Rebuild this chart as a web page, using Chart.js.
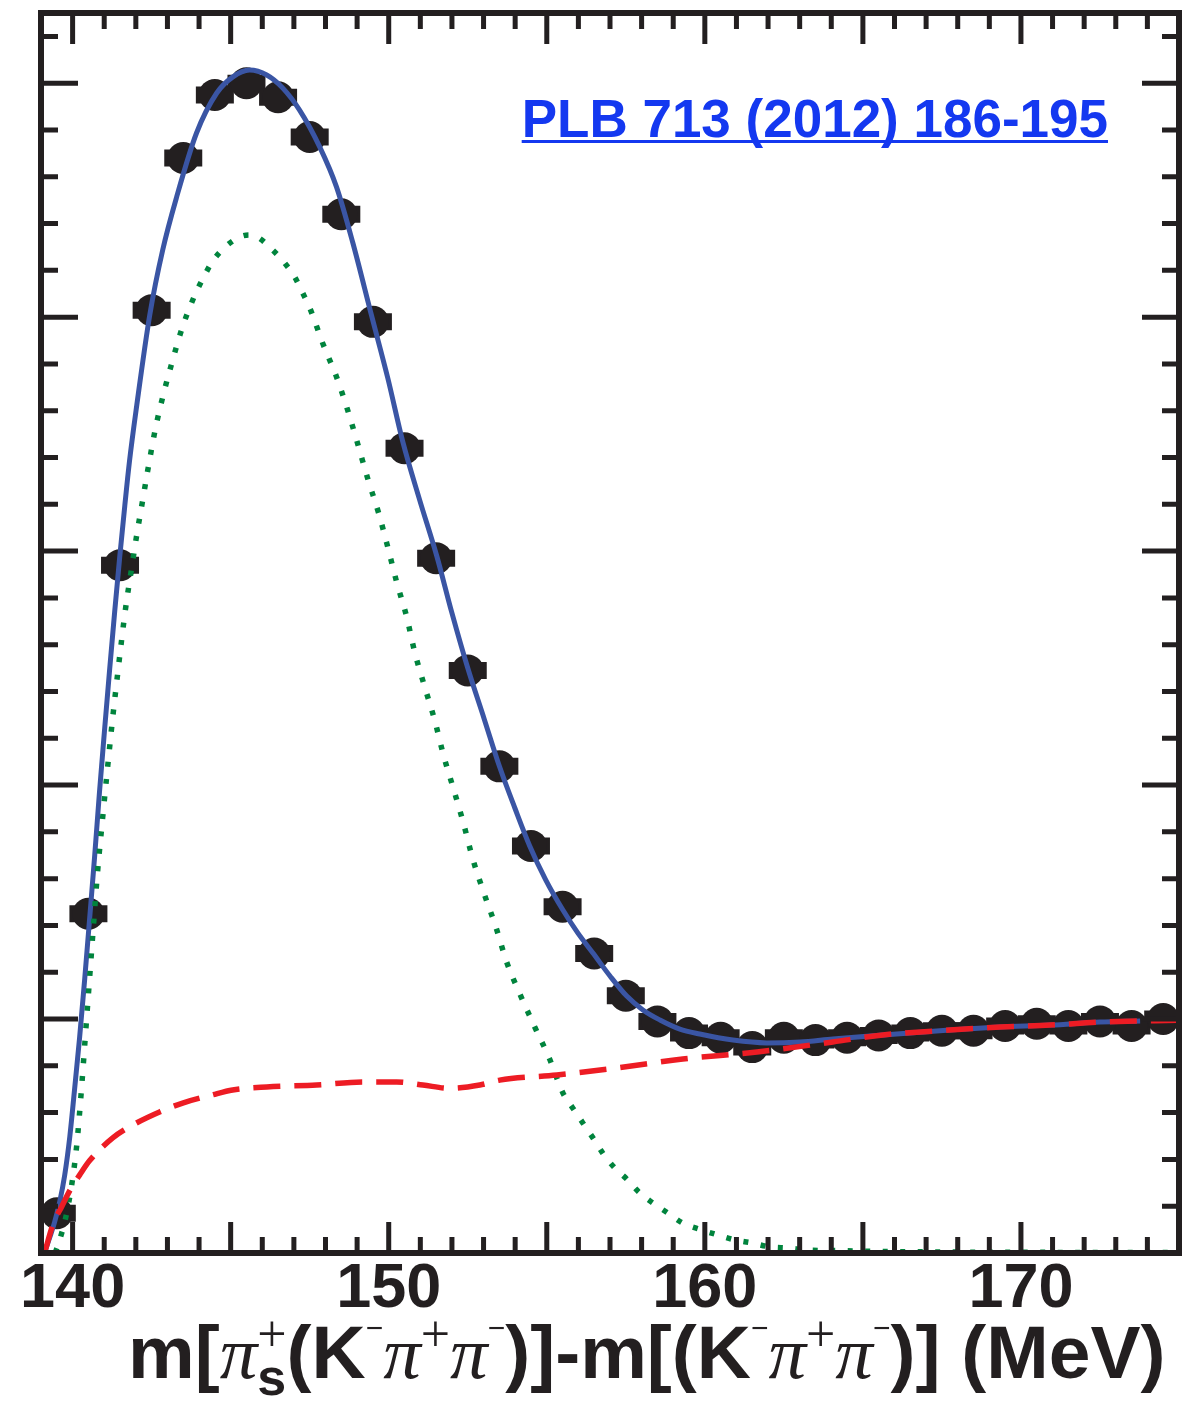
<!DOCTYPE html>
<html>
<head>
<meta charset="utf-8">
<title>D*+ mass difference</title>
<script src="https://cdn.jsdelivr.net/npm/chart.js@4.4.0/dist/chart.umd.min.js"></script>
<style>
  html, body { margin: 0; padding: 0; background: #fff; }
</style>
</head>
<body>
<canvas id="myChart" width="1184" height="1404"></canvas>
<script>
'use strict';

// binned data: bin centres (MeV) and entries
let binMass = [139.5, 140.5, 141.5, 142.5, 143.5, 144.5, 145.5, 146.5, 147.5, 148.5,
  149.5, 150.5, 151.5, 152.5, 153.5, 154.5, 155.5, 156.5, 157.5, 158.5,
  159.5, 160.5, 161.5, 162.5, 163.5, 164.5, 165.5, 166.5, 167.5, 168.5,
  169.5, 170.5, 171.5, 172.5, 173.5, 174.5];
let binCounts = [17, 145, 294, 403, 468, 495, 500, 494, 477, 444,
  398, 344, 297, 249, 208, 174, 148, 128, 110, 99,
  94, 92, 88, 92, 91, 92, 93, 94, 95, 95,
  97, 98, 97, 99, 97, 100];

// total fit (solid blue)
let fitMass = [139.11, 139.27, 139.43, 139.59, 139.75, 139.91, 140.06, 140.22, 140.38, 140.54,
  140.70, 140.85, 141.01, 141.17, 141.33, 141.49, 141.65, 141.80, 142.03, 142.44,
  142.85, 143.29, 143.92, 144.56, 145.06, 145.60, 146.14, 146.65, 147.18, 147.82,
  148.35, 148.86, 149.46, 149.97, 150.44, 150.98, 151.52, 151.99, 152.50, 153.01,
  153.51, 153.99, 154.46, 154.97, 155.51, 155.98, 156.46, 157.00, 157.53, 158.04,
  158.58, 159.21, 159.84, 160.89, 161.96, 163.01, 164.05, 165.63, 167.75, 169.34,
  170.92, 172.50, 173.77];
let fitValues = [0, 6.4, 13.2, 21.8, 33.3, 49.6, 69.7, 91.9, 116.7, 143.2,
  170.1, 197.0, 223.5, 249.2, 274.0, 297.5, 319.3, 338.5, 362.4, 400.9,
  428.7, 451.3, 478.7, 495.8, 502.6, 505.6, 503.5, 497.9, 488.5, 472.7,
  455.6, 432.0, 400.5, 374.0, 347.0, 321.8, 297.9, 274.0, 250.0, 228.7,
  207.7, 190.2, 174.0, 159.4, 146.6, 136.8, 128.2, 118.4, 109.8, 103.9,
  99.6, 95.7, 93.6, 91.0, 89.8, 90.2, 91.5, 93.2, 95.3, 96.6,
  97.4, 98.7, 99.2];

// signal component (dotted green)
let sigMass = [139.45, 139.59, 139.78, 139.97, 140.13, 140.28, 140.41, 140.54, 140.66, 140.79,
  140.95, 141.11, 141.27, 141.42, 141.55, 141.68, 141.87, 142.03, 142.22, 142.37,
  142.63, 142.91, 143.13, 143.32, 143.48, 143.70, 143.92, 144.18, 144.43, 144.87,
  145.28, 145.57, 145.85, 146.33, 146.71, 147.03, 147.28, 147.53, 147.91, 148.35,
  148.70, 149.02, 149.34, 149.68, 149.97, 150.25, 150.57, 150.82, 151.14, 151.46,
  151.74, 152.06, 152.37, 152.66, 153.01, 153.39, 153.73, 154.15, 154.62, 155.09,
  155.51, 155.82, 156.14, 156.46, 156.77, 157.12, 157.53, 157.91, 158.35, 158.83,
  159.30, 159.91, 160.41, 160.95, 161.49, 162.06, 162.63, 163.23, 164.27, 166.0,
  168.0, 170.0, 175.0];
let sigValues = [0, 5.6, 15, 29, 46, 70, 94, 118, 140, 163,
  186, 208, 229, 247, 262, 276, 293, 307, 322, 334,
  353, 369, 380, 389, 396, 404, 411, 418, 424, 430.5,
  434.2, 435.1, 434.2, 428.7, 423.1, 417.1, 410.3, 403.0, 388.9, 374.4,
  360.3, 345.8, 330.8, 316.3, 301.7, 286.8, 271.8, 256.9, 241.9, 227.4,
  212.4, 197.9, 183.4, 168.4, 153.9, 139.3, 124.4, 110.7, 96.6, 82.9,
  68.4, 62.0, 55.6, 49.2, 42.7, 36.8, 31.6, 26.1, 21.4, 17.1,
  12.8, 9.8, 7.7, 5.6, 4.3, 2.6, 2.1, 1.3, 1.0, 0.6,
  0.4, 0.3, 0.2];

// background component (dashed red)
let bkgMass = [139.11, 139.40, 139.65, 139.94, 140.22, 140.54, 141.27, 141.90, 142.75, 143.48,
  144.40, 145.06, 146.14, 147.72, 149.18, 150.25, 151.08, 151.93, 152.88, 153.51,
  155.32, 157.22, 159.30, 161.65, 164.05, 165.63, 167.75, 169.34, 170.92, 172.50,
  175.00];
let bkgValues = [0, 13.0, 19.7, 27.4, 33.3, 39.5, 49.2, 54.7, 60.3, 64.1,
  67.5, 69.7, 71.0, 71.8, 73.1, 73.1, 71.8, 70.4, 71.8, 73.9,
  76.1, 79.1, 82.9, 85.9, 90.2, 93.2, 95.3, 96.6, 97.4, 98.7,
  99.5];

let xTickLabels = [140, 150, 160, 170];
let citation = 'PLB 713 (2012) 186-195';

let ink = '#231f20';

function pairs(xs, ys) {
  return xs.map((v, i) => ({ x: v, y: ys[i] }));
}

// frame with inward tick marks on all four sides
let frameTicks = {
  id: 'frameTicks',
  afterDatasetsDraw(chart) {
    let ctx = chart.ctx;
    let a = chart.chartArea;
    let xs = chart.scales.x;
    let ys = chart.scales.y;
    ctx.save();
    ctx.strokeStyle = ink;
    ctx.lineCap = 'butt';
    ctx.lineWidth = 5;
    ctx.beginPath();
    xs.ticks.forEach(t => {
      if (t.value <= xs.min || t.value >= xs.max) return;
      let px = xs.getPixelForValue(t.value);
      let len = t.value % 5 === 0 ? 31 : 16;
      ctx.moveTo(px, a.bottom);
      ctx.lineTo(px, a.bottom - len);
      ctx.moveTo(px, a.top);
      ctx.lineTo(px, a.top + len);
    });
    ys.ticks.forEach(t => {
      if (t.value <= ys.min || t.value >= ys.max) return;
      let py = ys.getPixelForValue(t.value);
      let len = t.value % 100 === 0 ? 37 : 17;
      ctx.moveTo(a.left, py);
      ctx.lineTo(a.left + len, py);
      ctx.moveTo(a.right, py);
      ctx.lineTo(a.right - len, py);
    });
    ctx.stroke();
    ctx.lineWidth = 6;
    ctx.strokeRect(a.left, a.top, a.right - a.left, a.bottom - a.top);
    ctx.restore();
  }
};

// reference label, top right
let citationLabel = {
  id: 'citationLabel',
  afterDraw(chart) {
    let ctx = chart.ctx;
    ctx.save();
    ctx.font = 'bold 53px "Liberation Sans", Arial, sans-serif';
    ctx.fillStyle = '#1438f0';
    ctx.textAlign = 'right';
    ctx.textBaseline = 'alphabetic';
    let right = 1108;
    ctx.fillText(citation, right, 137);
    let w = ctx.measureText(citation).width;
    ctx.fillRect(right - w, 140, w, 3);
    ctx.restore();
  }
};

// x axis title with sub/superscripts
let axisTitle = {
  id: 'axisTitle',
  afterDraw(chart) {
    let ctx = chart.ctx;
    let F = 75;
    let sans = 'bold ' + F + 'px "Liberation Sans", Arial, sans-serif';
    let pi = 'italic ' + F + 'px "Liberation Serif", "Times New Roman", serif';
    let plus = '52px "Liberation Serif", "Times New Roman", serif';
    let minus = '30px "Liberation Sans", Arial, sans-serif';
    let sub = 'bold 52px "Liberation Sans", Arial, sans-serif';
    let runs = [
      { t: 'm[', f: sans },
      { t: 'π', f: pi },
      { t: '+', f: plus, dy: -27, stack: true },
      { t: 's', f: sub, dy: 17 },
      { t: '(K', f: sans },
      { t: '\u2212', f: minus, dy: -40 },
      { t: 'π', f: pi },
      { t: '+', f: plus, dy: -27 },
      { t: 'π', f: pi },
      { t: '\u2212', f: minus, dy: -40 },
      { t: ')]-m[(K', f: sans },
      { t: '\u2212', f: minus, dy: -40 },
      { t: 'π', f: pi },
      { t: '+', f: plus, dy: -27 },
      { t: 'π', f: pi },
      { t: '\u2212', f: minus, dy: -40 },
      { t: ')] (MeV)', f: sans }
    ];
    let x = 128;
    let base = 1378;
    let held = 0;
    ctx.save();
    ctx.fillStyle = ink;
    ctx.textAlign = 'left';
    ctx.textBaseline = 'alphabetic';
    runs.forEach(r => {
      ctx.font = r.f;
      ctx.fillText(r.t, x, base + (r.dy || 0));
      let w = ctx.measureText(r.t).width;
      if (r.stack) {
        held = w;
      } else {
        x += Math.max(w, held);
        held = 0;
      }
    });
    ctx.restore();
  }
};

let ctx = document.getElementById('myChart').getContext('2d');
let myChart = new Chart(ctx, {
  type: 'scatter',
  data: {
    datasets: [
      {
        label: 'Background',
        data: pairs(bkgMass, bkgValues),
        showLine: true,
        borderColor: '#ed1c24',
        borderWidth: 5.5,
        borderDash: [27, 14],
        borderCapStyle: 'butt',
        pointRadius: 0,
        cubicInterpolationMode: 'monotone',
        order: 0
      },
      {
        label: 'Signal',
        data: pairs(sigMass, sigValues),
        showLine: true,
        borderColor: '#00843d',
        borderWidth: 5.5,
        borderDash: [5, 12.5],
        borderCapStyle: 'butt',
        pointRadius: 0,
        cubicInterpolationMode: 'monotone',
        order: 1
      },
      {
        label: 'Fit',
        data: pairs(fitMass, fitValues),
        showLine: true,
        borderColor: '#3a55a4',
        borderWidth: 5,
        pointRadius: 0,
        cubicInterpolationMode: 'monotone',
        order: 2
      },
      {
        label: 'Data',
        data: pairs(binMass, binCounts),
        pointStyle: 'circle',
        pointRadius: 16,
        pointBackgroundColor: ink,
        pointBorderWidth: 0,
        order: 3
      },
      {
        label: 'Data bins',
        data: pairs(binMass, binCounts),
        pointStyle: 'line',
        pointRadius: 19,
        pointBorderColor: ink,
        pointBorderWidth: 17,
        order: 4
      }
    ]
  },
  options: {
    responsive: false,
    animation: false,
    devicePixelRatio: 1,
    layout: { autoPadding: false, padding: { left: 41, right: 5, top: 13, bottom: 0 } },
    plugins: {
      legend: { display: false },
      tooltip: { enabled: false }
    },
    scales: {
      x: {
        type: 'linear',
        min: 139,
        max: 175,
        grid: { display: false },
        border: { display: false },
        afterFit(scale) { scale.height = 151; },
        ticks: {
          stepSize: 1,
          autoSkip: false,
          maxRotation: 0,
          padding: -3,
          color: ink,
          font: { family: '"Liberation Sans", Arial, sans-serif', size: 63, weight: 'bold', lineHeight: 1 },
          callback: v => xTickLabels.includes(v) ? String(v) : ''
        }
      },
      y: {
        type: 'linear',
        min: 0,
        max: 530,
        grid: { display: false },
        border: { display: false },
        afterFit(scale) { scale.width = 0; },
        ticks: { stepSize: 20, display: false }
      }
    }
  },
  plugins: [frameTicks, citationLabel, axisTitle]
});
</script>
</body>
</html>
